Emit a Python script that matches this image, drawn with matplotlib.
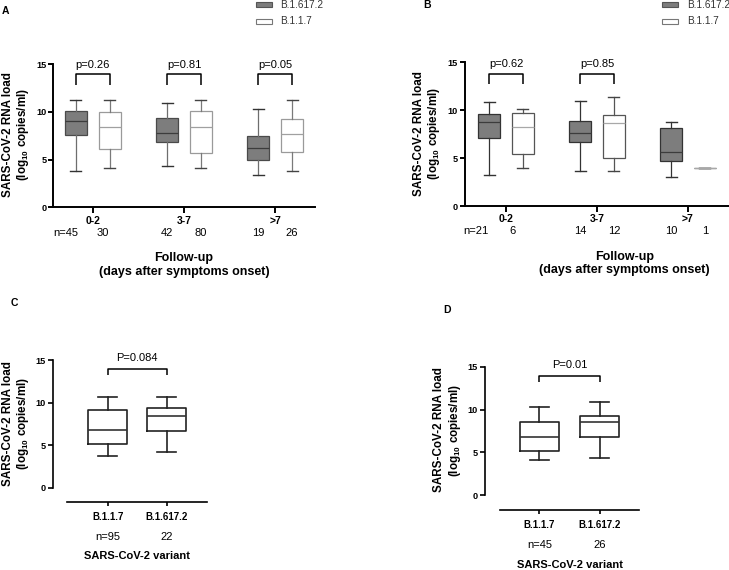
import matplotlib
matplotlib.use('Agg')
import matplotlib.pyplot as plt
from matplotlib.patches import Rectangle

plt.rcParams['font.family'] = ['Liberation Sans', 'DejaVu Sans']
plt.rcParams['mathtext.fontset'] = 'custom'
plt.rcParams['mathtext.rm'] = 'Liberation Sans:bold'
plt.rcParams['mathtext.it'] = 'Liberation Sans:bold'
plt.rcParams['mathtext.bf'] = 'Liberation Sans:bold'
plt.rcParams['mathtext.default'] = 'regular'

# ---- data (log10 copies/ml) ----
follow_groups = ['0-2', '3-7', '>7']
variants = ['B.1.1.7', 'B.1.617.2']

# panel A
a_delta_lo = [3.85, 4.34, 3.36]
a_delta_q1 = [7.52, 6.82, 4.93]
a_delta_med = [9.06, 7.76, 6.19]
a_delta_q3 = [10.03, 9.34, 7.45]
a_delta_hi = [11.26, 10.90, 10.31]
a_alpha_lo = [4.16, 4.09, 3.78]
a_alpha_q1 = [6.15, 5.70, 5.77]
a_alpha_med = [8.43, 8.43, 7.66]
a_alpha_q3 = [9.97, 10.03, 9.23]
a_alpha_hi = [11.26, 11.26, 11.26]
a_n_delta = [45, 42, 19]
a_n_alpha = [30, 80, 26]
a_pvals = ['p=0.26', 'p=0.81', 'p=0.05']

# panel B
b_delta_lo = [3.24, 3.66, 3.06]
b_delta_q1 = [7.07, 6.66, 4.65]
b_delta_med = [8.75, 7.63, 5.66]
b_delta_q3 = [9.65, 8.92, 8.09]
b_delta_hi = [10.87, 10.94, 8.72]
b_alpha_lo = [4.00, 3.66, 3.99]
b_alpha_q1 = [5.47, 5.02, 3.99]
b_alpha_med = [8.22, 8.64, 3.99]
b_alpha_q3 = [9.72, 9.51, 3.99]
b_alpha_hi = [10.10, 11.43, 3.99]
b_n_delta = [21, 14, 10]
b_n_alpha = [6, 12, 1]
b_pvals = ['p=0.62', 'p=0.85', None]

# panel C
c_lo = [3.74, 4.17]
c_q1 = [5.12, 6.61]
c_med = [6.81, 8.43]
c_q3 = [9.09, 9.33]
c_hi = [10.63, 10.59]
c_n = [95, 22]
c_pval = 'P=0.084'

# panel D
d_lo = [4.16, 4.39]
d_q1 = [5.13, 6.84]
d_med = [6.84, 8.59]
d_q3 = [8.51, 9.29]
d_hi = [10.30, 10.88]
d_n = [45, 26]
d_pval = 'P=0.01'

W, H = 729, 570
fig = plt.figure(figsize=(W / 100, H / 100), dpi=100)


def fig_box(left, top, right, bottom):
    return [left / W, 1 - bottom / H, (right - left) / W, (bottom - top) / H]


def make_stats(lo, q1, med, q3, hi):
    return [dict(whislo=a, q1=b, med=c, q3=d, whishi=e, fliers=[])
            for a, b, c, d, e in zip(lo, q1, med, q3, hi)]


def below(ax, x, px, s, **kw):
    ax.annotate(s, xy=(x, 0), xycoords=('data', 'axes fraction'),
                xytext=(0, -px), textcoords='offset pixels',
                ha='center', va='center', annotation_clip=False, **kw)


def bracket(ax, x1, x2, lo, hi, ytxt, label):
    ax.plot([x1, x1, x2, x2], [lo, hi, hi, lo], color='black', lw=1.1,
            clip_on=False, solid_capstyle='butt')
    ax.text((x1 + x2) / 2, ytxt, label, ha='center', va='center', fontsize=8,
            clip_on=False)


def style_y(ax, lw):
    ax.set_yticks([0, 5, 10, 15])
    ax.tick_params(axis='y', length=3.5, width=lw, pad=1.5, labelsize=6.6)
    for t in ax.get_yticklabels():
        t.set_fontweight('bold')
    for s in ['top', 'right']:
        ax.spines[s].set_visible(False)
    ax.spines['left'].set_linewidth(lw)
    ax.spines['bottom'].set_linewidth(lw)


def draw_grouped(ax, dstats, astats, edge_dark, edge_light, whisk_dark, whisk_light,
                 med_light):
    pos = [1, 2, 3]
    off = 0.185
    ax.bxp(dstats, positions=[p - off for p in pos], widths=0.24, patch_artist=True,
           showfliers=False, manage_ticks=False,
           boxprops=dict(facecolor='#7d7d7d', edgecolor=edge_dark, lw=0.9),
           medianprops=dict(color='#3c3c3c', lw=0.9),
           whiskerprops=dict(color=whisk_dark, lw=0.9),
           capprops=dict(color='#333333', lw=1.0))
    ax.bxp(astats, positions=[p + off for p in pos], widths=0.24, patch_artist=True,
           showfliers=False, manage_ticks=False,
           boxprops=dict(facecolor='white', edgecolor=edge_light, lw=0.9),
           medianprops=dict(color=med_light, lw=0.9),
           whiskerprops=dict(color=whisk_light, lw=0.9),
           capprops=dict(color='#444444', lw=1.0))
    ax.set_ylim(0, 15)
    ax.set_xticks(pos)
    ax.set_xticklabels([])
    ax.tick_params(axis='x', length=4, width=1.4)
    style_y(ax, 1.4)
    return pos, off


# ---------- panel A ----------
axA = fig.add_axes(fig_box(53.3, 64, 315, 207.3))
axA.set_xlim(0.5685, 3.435)
pos, off = draw_grouped(axA, make_stats(a_delta_lo, a_delta_q1, a_delta_med, a_delta_q3, a_delta_hi),
                        make_stats(a_alpha_lo, a_alpha_q1, a_alpha_med, a_alpha_q3, a_alpha_hi),
                        '#4a4a4a', '#9a9a9a', '#6e6e6e', '#7a7a7a', '#a0a0a0')
for i, p in enumerate(pos):
    bracket(axA, p - off, p + off, 12.83, 13.95, 14.9, a_pvals[i])
    below(axA, p, 13.6, follow_groups[i], fontsize=7.5, fontweight='bold')
    if i == 0:
        below(axA, p - 0.298, 25.7, 'n=%d' % a_n_delta[i], fontsize=8)
        below(axA, p + 0.107, 25.7, '%d' % a_n_alpha[i], fontsize=8)
    else:
        below(axA, p - off, 25.7, '%d' % a_n_delta[i], fontsize=8)
        below(axA, p + off, 25.7, '%d' % a_n_alpha[i], fontsize=8)
below(axA, 2.0, 50.7, 'Follow-up', fontsize=9, fontweight='bold')
below(axA, 2.0, 64.7, '(days after symptoms onset)', fontsize=9, fontweight='bold')

# ---------- panel B ----------
axB = fig.add_axes(fig_box(465, 62.3, 729, 206))
axB.set_xlim(0.549, 3.45)
pos, off = draw_grouped(axB, make_stats(b_delta_lo, b_delta_q1, b_delta_med, b_delta_q3, b_delta_hi),
                        make_stats(b_alpha_lo, b_alpha_q1, b_alpha_med, b_alpha_q3, b_alpha_hi),
                        '#333333', '#555555', '#333333', '#555555', '#a8a8a8')
for i, p in enumerate(pos):
    if b_pvals[i]:
        bracket(axB, p - off, p + off, 12.75, 13.8, 14.8, b_pvals[i])
    below(axB, p, 13, follow_groups[i], fontsize=7.5, fontweight='bold')
    if i == 0:
        below(axB, p - 0.335, 24.5, 'n=%d' % b_n_delta[i], fontsize=8)
        below(axB, p + 0.066, 24.5, '%d' % b_n_alpha[i], fontsize=8)
    else:
        below(axB, p - off, 24.5, '%d' % b_n_delta[i], fontsize=8)
        below(axB, p + off, 24.5, '%d' % b_n_alpha[i], fontsize=8)
below(axB, 2.3, 50.7, 'Follow-up', fontsize=9, fontweight='bold')
below(axB, 2.3, 64, '(days after symptoms onset)', fontsize=9, fontweight='bold')


# ---------- panels C and D ----------
def draw_pair(ax, stats, ylo, xlo_line, xlim, pval, n):
    ax.bxp(stats, positions=[1, 2], widths=0.66, showfliers=False, manage_ticks=False,
           boxprops=dict(color='#222222', lw=1.2),
           medianprops=dict(color='#333333', lw=1.2),
           whiskerprops=dict(color='#222222', lw=1.2),
           capprops=dict(color='#222222', lw=1.2))
    ax.set_xlim(*xlim)
    ax.set_ylim(ylo, 15)
    style_y(ax, 1.2)
    ax.spines['left'].set_bounds(0, 15)
    ax.spines['bottom'].set_bounds(xlo_line, xlim[1])
    ax.set_xticks([1, 2])
    ax.set_xticklabels([])
    ax.tick_params(axis='x', length=3.0, width=1.2)
    bracket(ax, 1, 2, 13.24, 13.95, 15.2, pval)
    for i, p in enumerate([1, 2]):
        below(ax, p, 15, variants[i], fontsize=7, fontweight='bold')
        below(ax, p, 35.3, ('n=%d' if i == 0 else '%d') % n[i], fontsize=8)
    below(ax, 1.5, 54.5, 'SARS-CoV-2 variant', fontsize=8, fontweight='bold')


axC = fig.add_axes(fig_box(53, 360, 206.7, 501.7))
draw_pair(axC, make_stats(c_lo, c_q1, c_med, c_q3, c_hi), -1.67, 0.314,
          (0.071, 2.678), c_pval, c_n)

axD = fig.add_axes(fig_box(485, 366.7, 639, 510))
draw_pair(axD, make_stats(d_lo, d_q1, d_med, d_q3, d_hi), -1.71, 0.342,
          (0.092, 2.658), d_pval, d_n)

# ---------- y labels, panel letters, legends ----------
ylab = [(8.5, 23.5, 134.5), (419, 434, 133.5), (8.5, 23.5, 423.3), (439.5, 455, 430)]
for x1, x2, yc in ylab:
    fig.text(x1 / W, 1 - yc / H, 'SARS-CoV-2 RNA load', rotation=90, ha='center',
             va='center', fontsize=8.4, fontweight='bold')
    fig.text(x2 / W, 1 - yc / H, r'(log$_{10}$ copies/ml)', rotation=90, ha='center',
             va='center', fontsize=8.4, fontweight='bold')

for lab, x, y in [('A', 5, 11), ('B', 427, 4.5), ('C', 14.5, 303), ('D', 447, 310)]:
    fig.text(x / W, 1 - y / H, lab, ha='center', va='center', fontsize=7.5,
             fontweight='bold')

for px, tx in [(256, 280), (662, 687)]:
    for yc, fc, ec, name in [(4.7, '#7d7d7d', '#555555', 'B.1.617.2'),
                             (21.5, 'white', '#777777', 'B.1.1.7')]:
        fig.patches.append(Rectangle((px / W, 1 - (yc + 2.3) / H), 16 / W, 4.6 / H,
                                     transform=fig.transFigure, facecolor=fc,
                                     edgecolor=ec, lw=0.8))
        fig.text(tx / W, 1 - yc / H, name, ha='left', va='center', fontsize=7.2,
                 color='#333333')

fig.savefig('out.png', dpi=100)
